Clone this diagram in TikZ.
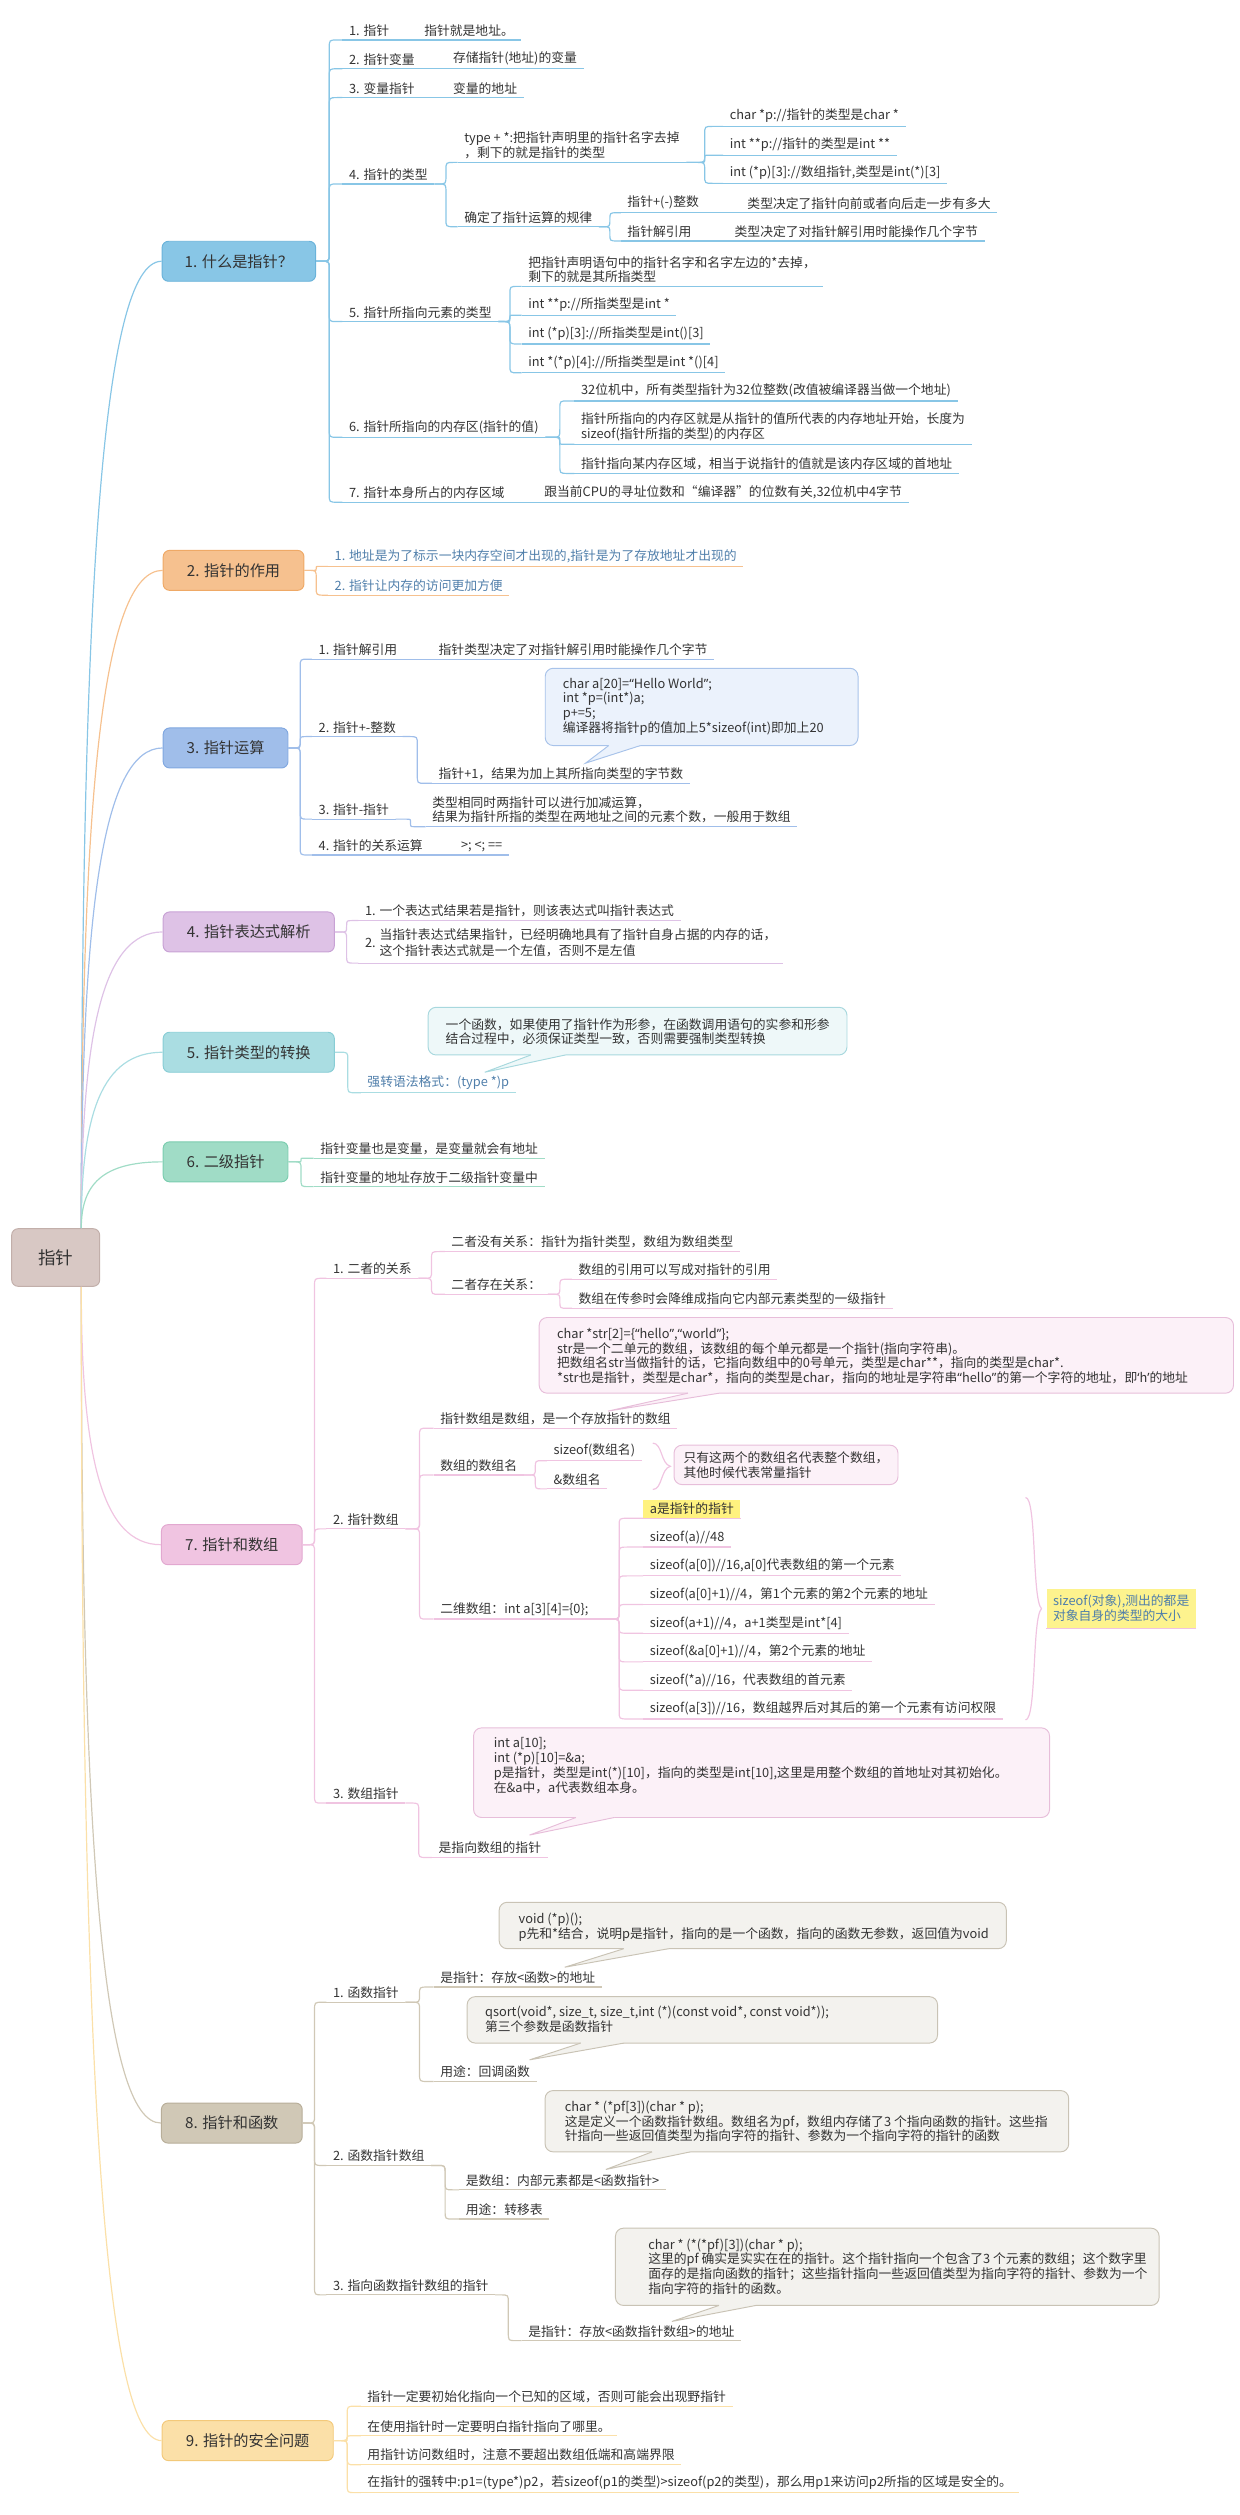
\documentclass[tikz,border=0pt]{standalone}
\usepackage{fontspec}
\setmainfont{Noto Sans CJK SC}
\newfontfamily\mmq{Noto Sans}
\usetikzlibrary{calc,fit}
\definecolor{txt}{HTML}{333333}
\definecolor{bluetxt}{HTML}{4F7EAA}
\definecolor{rootfill}{HTML}{D8C8C4}\definecolor{rootdraw}{HTML}{C2AFAA}
\definecolor{c1}{HTML}{88C6E6}\definecolor{d1}{HTML}{6AB3DA}
\definecolor{c2}{HTML}{F6C18F}\definecolor{d2}{HTML}{EFA966}
\definecolor{c3}{HTML}{A0BEEA}\definecolor{d3}{HTML}{80A7E0}
\definecolor{c4}{HTML}{DEC2E6}\definecolor{d4}{HTML}{C8A2D5}
\definecolor{c5}{HTML}{AADDE2}\definecolor{d5}{HTML}{88CDD5}
\definecolor{c6}{HTML}{A0DCC6}\definecolor{d6}{HTML}{7BCDAF}
\definecolor{c7}{HTML}{F0C4E1}\definecolor{d7}{HTML}{E2A8D0}
\definecolor{c8}{HTML}{D0C8B6}\definecolor{d8}{HTML}{B8AE99}
\definecolor{c9}{HTML}{FBE0A8}\definecolor{d9}{HTML}{F3C97A}
\definecolor{cal3f}{HTML}{EBF2FC}\definecolor{cal3d}{HTML}{A8C3EA}
\definecolor{cal5f}{HTML}{EEF8F9}\definecolor{cal5d}{HTML}{A8D8DE}
\definecolor{cal7f}{HTML}{FCF1F8}\definecolor{cal7d}{HTML}{E7BEDA}
\definecolor{cal8f}{HTML}{F3F2EE}\definecolor{cal8d}{HTML}{C9C3B5}
\definecolor{hl}{HTML}{FFF27F}
\definecolor{hlb}{HTML}{FDF38E}

\newcommand\mmleaf[6][]{%
  \node[leaf,#1] (#2) at (#3,#4) {#6};
  \draw[ln,#5] (#2.south west) -- (#2.south east);}
\newcommand\mmlink[3]{%
  \draw[#1] let \p1=(#2), \p2=(#3),
    \n1={(\x1+\x2)/2}, \n2={min(5,abs(\y2-\y1)/2,abs(\x2-\x1)/2)}, \n3={sign(\y2-\y1)}
  in (\p1) -- (\n1-\n2,\y1) .. controls (\n1,\y1) .. (\n1,\y1+\n3*\n2)
     -- (\n1,\y2-\n3*\n2) .. controls (\n1,\y2) .. (\n1+\n2,\y2) -- (\p2);}
\newcommand\mmrootlink[3]{%
  \draw[#1] let \p1=(#2), \p2=(#3) in (\p1) .. controls (\x1,0.35*\y1+0.65*\y2) and (\x1+0.25*\x2-0.25*\x1,\y2) .. (\p2);}
% tail of a callout: fill, draw, base x1, base x2, base y, tip
\newcommand\mmtail[6]{%
  \fill[#1] (#3,#5-1.5) -- (#3,#5) -- (#6) -- (#4,#5) -- (#4,#5-1.5) -- cycle;
  \draw[#2,line width=0.6pt] (#3,#5) -- (#6) -- (#4,#5);}
\newcommand\mmlq{{\mmq “}}
\newcommand\mmrq{{\mmq ”}}

\begin{document}
\begin{tikzpicture}[x=1pt,y=-1pt,
  every node/.style={font=\fontsize{8}{9.2}\selectfont, text=txt},
  leaf/.style={anchor=south west, inner xsep=4pt, inner ysep=2pt, align=left},
  sec/.style={anchor=west, rounded corners=4pt, minimum height=25pt, inner sep=0pt,
              font=\fontsize{9.5}{11}\selectfont, line width=0.6pt},
  calbox/.style={rounded corners=5pt, inner sep=0pt, line width=0.6pt},
  caltext/.style={anchor=north west, inner sep=0pt, align=left},
  ln/.style={line width=0.75pt},
]
\useasboundingbox (0,0) rectangle (775,1572);

% ---------- root ----------
\node[sec, fill=rootfill, draw=rootdraw, minimum width=55pt, minimum height=36pt,
      font=\fontsize{11}{13}\selectfont] (root) at (7,786) {指针};
\coordinate (rt) at ([xshift=16pt]root.north);
\coordinate (rb) at ([xshift=16pt]root.south);

% ---------- sections ----------
\node[sec, fill=c1, draw=d1, minimum width=96pt]  (s1) at (101,163.3)   {1. 什么是指针？};
\node[sec, fill=c2, draw=d2, minimum width=88pt]  (s2) at (101.7,356.5) {2. 指针的作用};
\node[sec, fill=c3, draw=d3, minimum width=78pt]  (s3) at (101.7,467.5) {3. 指针运算};
\node[sec, fill=c4, draw=d4, minimum width=107pt] (s4) at (101.7,582.5) {4. 指针表达式解析};
\node[sec, fill=c5, draw=d5, minimum width=107pt] (s5) at (101.7,657.7) {5. 指针类型的转换};
\node[sec, fill=c6, draw=d6, minimum width=78pt]  (s6) at (101.7,726.2) {6. 二级指针};
\node[sec, fill=c7, draw=d7, minimum width=88pt]  (s7) at (100.6,965.5) {7. 指针和数组};
\node[sec, fill=c8, draw=d8, minimum width=88pt]  (s8) at (100.6,1327)  {8. 指针和函数};
\node[sec, fill=c9, draw=d9, minimum width=107pt] (s9) at (101,1525.5)  {9. 指针的安全问题};

\mmrootlink{ln,c1}{rt}{s1.west}
\mmrootlink{ln,c2}{rt}{s2.west}
\mmrootlink{ln,c3}{rt}{s3.west}
\mmrootlink{ln,c4}{rt}{s4.west}
\mmrootlink{ln,c5}{rt}{s5.west}
\mmrootlink{ln,c6}{rt}{s6.west}
\mmrootlink{ln,c7}{rb}{s7.west}
\mmrootlink{ln,c8}{rb}{s8.west}
\mmrootlink{ln,c9}{rb}{s9.west}

% ---------- section 1 ----------
\mmleaf{n11}{214}{25}{c1}{1. 指针}
\mmleaf{n11b}{261}{25}{c1}{指针就是地址。}
\mmleaf{n12}{214}{43}{c1}{2. 指针变量}
\mmleaf{n12b}{279}{43}{c1}{存储指针(地址)的变量}
\mmleaf{n13}{214}{61}{c1}{3. 变量指针}
\mmleaf{n13b}{279}{61}{c1}{变量的地址}
\mmleaf{n14}{214}{115}{c1}{4. 指针的类型}
\mmleaf{n14a}{286}{101.5}{c1}{type + *:把指针声明里的指针名字去掉\\，剩下的就是指针的类型}
\mmleaf{n14a1}{452}{79}{c1}{char *p://指针的类型是char *}
\mmleaf{n14a2}{452}{97}{c1}{int **p://指针的类型是int **}
\mmleaf{n14a3}{452}{114.6}{c1}{int (*p)[3]://数组指针,类型是int(*)[3]}
\mmleaf{n14b}{286}{141.7}{c1}{确定了指针运算的规律}
\mmleaf{n14b1}{388}{133}{c1}{指针+(-)整数}
\mmleaf{n14b1b}{463}{133}{c1}{类型决定了指针向前或者向后走一步有多大}
\mmleaf{n14b2}{388}{150.6}{c1}{指针解引用}
\mmleaf{n14b2b}{455}{150.6}{c1}{类型决定了对指针解引用时能操作几个字节}
\mmleaf{n15}{214}{201}{c1}{5. 指针所指向元素的类型}
\mmleaf{n15a}{326}{179}{c1}{把指针声明语句中的指针名字和名字左边的*去掉，\\剩下的就是其所指类型}
\mmleaf{n15b}{326}{197}{c1}{int **p://所指类型是int *}
\mmleaf{n15c}{326}{215}{c1}{int (*p)[3]://所指类型是int()[3]}
\mmleaf{n15d}{326}{233}{c1}{int *(*p)[4]://所指类型是int *()[4]}
\mmleaf{n16}{214}{273.3}{c1}{6. 指针所指向的内存区(指针的值)}
\mmleaf{n16a}{359}{250.6}{c1}{32位机中，所有类型指针为32位整数(改值被编译器当做一个地址)}
\mmleaf{n16b}{359}{277.7}{c1}{指针所指向的内存区就是从指针的值所代表的内存地址开始，长度为\\sizeof(指针所指的类型)的内存区}
\mmleaf{n16c}{359}{295.9}{c1}{指针指向某内存区域，相当于说指针的值就是该内存区域的首地址}
\mmleaf{n17}{214}{313.9}{c1}{7. 指针本身所占的内存区域}
\mmleaf{n17b}{336}{313.9}{c1}{跟当前CPU的寻址位数和“编译器”的位数有关,32位机中4字节}

\foreach \q in {n11,n12,n13,n14,n15,n16,n17} {\mmlink{ln,c1}{s1.east}{\q.south west}}
\draw[ln,c1] (n11.south east) -- (n11b.south west);
\draw[ln,c1] (n12.south east) -- (n12b.south west);
\draw[ln,c1] (n13.south east) -- (n13b.south west);
\draw[ln,c1] (n17.south east) -- (n17b.south west);
\draw[ln,c1] (n14b1.south east) -- (n14b1b.south west);
\draw[ln,c1] (n14b2.south east) -- (n14b2b.south west);
\mmlink{ln,c1}{n14.south east}{n14a.south west}
\mmlink{ln,c1}{n14.south east}{n14b.south west}
\foreach \q in {n14a1,n14a2,n14a3} {\mmlink{ln,c1}{n14a.south east}{\q.south west}}
\foreach \q in {n14b1,n14b2} {\mmlink{ln,c1}{n14b.south east}{\q.south west}}
\foreach \q in {n15a,n15b,n15c,n15d} {\mmlink{ln,c1}{n15.south east}{\q.south west}}
\foreach \q in {n16a,n16b,n16c} {\mmlink{ln,c1}{n16.south east}{\q.south west}}

% ---------- section 2 ----------
\mmleaf[text=bluetxt]{n21}{205}{354}{c2}{1. 地址是为了标示一块内存空间才出现的,指针是为了存放地址才出现的}
\mmleaf[text=bluetxt]{n22}{205}{372}{c2}{2. 指针让内存的访问更加方便}
\foreach \q in {n21,n22} {\mmlink{ln,c2}{s2.east}{\q.south west}}

% ---------- section 3 ----------
\mmleaf{n31}{195}{412}{c3}{1. 指针解引用}
\mmleaf{n31b}{270}{412}{c3}{指针类型决定了对指针解引用时能操作几个字节}
\mmleaf{n32}{195}{460.4}{c3}{2. 指针+-整数}
\mmleaf{n32a}{270}{489.6}{c3}{指针+1，结果为加上其所指向类型的字节数}
\mmleaf{n33}{195}{512}{c3}{3. 指针-指针}
\mmleaf{n33a}{266}{516.7}{c3}{类型相同时两指针可以进行加减运算，\\结果为指针所指的类型在两地址之间的元素个数，一般用于数组}
\mmleaf{n34}{195}{534.4}{c3}{4. 指针的关系运算}
\mmleaf{n34b}{284}{534.4}{c3}{>; <; ==}
\foreach \q in {n31,n32,n33,n34} {\mmlink{ln,c3}{s3.east}{\q.south west}}
\draw[ln,c3] (n31.south east) -- (n31b.south west);
\draw[ln,c3] (n34.south east) -- (n34b.south west);
\mmlink{ln,c3}{n32.south east}{n32a.south west}
\mmlink{ln,c3}{n33.south east}{n33a.south west}
\node[calbox, fill=cal3f, draw=cal3d, fit={(340.8,417.7) (536.3,466)}] (cal3) {};
\coordinate (cal3tip) at (366,477);
\mmtail{cal3f}{cal3d}{380.5}{400.3}{466}{cal3tip}
\node[caltext] (cal3t) at (351.6,423.5) {char a[20]=\mmlq Hello World\mmrq;\\int *p=(int*)a;\\p+=5;\\编译器将指针p的值加上5*sizeof(int)即加上20};

% ---------- section 4 ----------
\mmleaf{n41}{224}{575.4}{c4}{1. 一个表达式结果若是指针，则该表达式叫指针表达式}
\mmleaf{n42}{224}{602}{c4}{2. \begin{tabular}{@{}l@{}}当指针表达式结果指针，已经明确地具有了指针自身占据的内存的话，\\这个指针表达式就是一个左值，否则不是左值\end{tabular}}
\foreach \q in {n41,n42} {\mmlink{ln,c4}{s4.east}{\q.south west}}

% ---------- section 5 ----------
\mmleaf[text=bluetxt]{n51}{225.5}{683}{c5}{强转语法格式：(type *)p}
\mmlink{ln,c5}{s5.east}{n51.south west}
\node[calbox, fill=cal5f, draw=cal5d, fit={(267.6,629.6) (529.4,659.4)}] (cal5) {};
\coordinate (cal5tip) at (303,670.2);
\mmtail{cal5f}{cal5d}{331.8}{353.4}{659.4}{cal5tip}
\node[caltext] (cal5t) at (278.4,636.3) {一个函数，如果使用了指针作为形参，在函数调用语句的实参和形参\\结合过程中，必须保证类型一致，否则需要强制类型转换};

% ---------- section 6 ----------
\mmleaf{n61}{196}{723.9}{c6}{指针变量也是变量，是变量就会有地址}
\mmleaf{n62}{196}{741.7}{c6}{指针变量的地址存放于二级指针变量中}
\foreach \q in {n61,n62} {\mmlink{ln,c6}{s6.east}{\q.south west}}

% ---------- section 7 ----------
\mmleaf{n71}{204}{799}{c7}{1. 二者的关系}
\mmleaf{n71a}{278}{782.3}{c7}{二者没有关系：指针为指针类型，数组为数组类型}
\mmleaf{n71b}{278}{809}{c7}{二者存在关系：}
\mmleaf{n71b1}{357.5}{799.6}{c7}{数组的引用可以写成对指针的引用}
\mmleaf{n71b2}{357.5}{817.7}{c7}{数组在传参时会降维成指向它内部元素类型的一级指针}
\mmleaf{n72}{204}{955.6}{c7}{2. 指针数组}
\mmleaf{n72a}{271}{892.7}{c7}{指针数组是数组，是一个存放指针的数组}
\mmleaf{n72b}{271}{921.9}{c7}{数组的数组名}
\mmleaf{n72b1}{341.8}{913}{c7}{sizeof(数组名)}
\mmleaf{n72b2}{341.8}{930.6}{c7}{\&数组名}
\mmleaf{n72c}{271}{1012}{c7}{二维数组：int a[3][4]=\{0\};}
\mmleaf[fill=hl]{n72c1}{402}{949}{c7}{a是指针的指针}
\mmleaf{n72c2}{402}{967}{c7}{sizeof(a)//48}
\mmleaf{n72c3}{402}{985}{c7}{sizeof(a[0])//16,a[0]代表数组的第一个元素}
\mmleaf{n72c4}{402}{1002.9}{c7}{sizeof(a[0]+1)//4，第1个元素的第2个元素的地址}
\mmleaf{n72c5}{402}{1020.8}{c7}{sizeof(a+1)//4，a+1类型是int*[4]}
\mmleaf{n72c6}{402}{1038.75}{c7}{sizeof(\&a[0]+1)//4，第2个元素的地址}
\mmleaf{n72c7}{402}{1056.5}{c7}{sizeof(*a)//16，代表数组的首元素}
\mmleaf{n72c8}{402}{1074.4}{c7}{sizeof(a[3])//16，数组越界后对其后的第一个元素有访问权限}
\mmleaf{n73}{204}{1127}{c7}{3. 数组指针}
\mmleaf{n73a}{270}{1161}{c7}{是指向数组的指针}
\foreach \q in {n71,n72,n73} {\mmlink{ln,c7}{s7.east}{\q.south west}}
\foreach \q in {n71a,n71b} {\mmlink{ln,c7}{n71.south east}{\q.south west}}
\foreach \q in {n71b1,n71b2} {\mmlink{ln,c7}{n71b.south east}{\q.south west}}
\foreach \q in {n72a,n72b,n72c} {\mmlink{ln,c7}{n72.south east}{\q.south west}}
\foreach \q in {n72b1,n72b2} {\mmlink{ln,c7}{n72b.south east}{\q.south west}}
\foreach \q in {n72c1,n72c2,n72c3,n72c4,n72c5,n72c6,n72c7,n72c8} {\mmlink{ln,c7}{n72c.south east}{\q.south west}}
\mmlink{ln,c7}{n73.south east}{n73a.south west}
% callout A
\node[calbox, fill=cal7f, draw=cal7d, fit={(337,823.5) (771,870.8)}] (cal7a) {};
\coordinate (cal7atip) at (380,882);
\mmtail{cal7f}{cal7d}{430}{449.5}{870.8}{cal7atip}
\node[caltext] (cal7at) at (348,830) {char *str[2]=\{\mmlq hello\mmrq,\mmlq world\mmrq\};\\str是一个二单元的数组，该数组的每个单元都是一个指针(指向字符串)。\\把数组名str当做指针的话，它指向数组中的0号单元，类型是char**，指向的类型是char*.\\{}*str也是指针，类型是char*，指向的类型是char，指向的地址是字符串\mmlq hello\mmrq 的第一个字符的地址，即{\mmq ‘}h{\mmq ’}的地址};
% summary 1
\draw[ln,c7] (408,902) .. controls (414,902) and (413,915) .. (419,916.5) .. controls (413,918) and (414,931) .. (408,931);
\node[calbox, fill=cal7f, draw=cal7d, anchor=north west, inner xsep=6pt, inner ysep=4pt, align=left] (sum1) at (421,903) {只有这两个的数组名代表整个数组，\\其他时候代表常量指针};
% summary 2
\draw[ln,c7] (641,936) .. controls (648,936) and (645,1000) .. (651,1005.5) .. controls (645,1011) and (648,1075) .. (641,1075);
\node[fill=hlb, anchor=north west, inner xsep=4pt, inner ysep=4pt, align=left, text=bluetxt] (sum2) at (654,992.7) {sizeof(对象),测出的都是\\对象自身的类型的大小};
\draw[ln,c7] (sum2.south west) -- (sum2.south east);
% callout C
\node[calbox, fill=cal7f, draw=cal7d, fit={(296,1080) (656,1136)}] (cal7c) {};
\coordinate (cal7ctip) at (331,1147);
\mmtail{cal7f}{cal7d}{360}{384}{1136}{cal7ctip}
\node[caltext] (cal7ct) at (308.5,1086) {int a[10];\\int (*p)[10]=\&a;\\p是指针，类型是int(*)[10]，指向的类型是int[10],这里是用整个数组的首地址对其初始化。\\在\&a中，a代表数组本身。};

% ---------- section 8 ----------
\mmleaf{n81}{204}{1251.5}{c8}{1. 函数指针}
\mmleaf{n81a}{271}{1242}{c8}{是指针：存放<函数>的地址}
\mmleaf{n81b}{271}{1301}{c8}{用途：回调函数}
\mmleaf{n82}{204}{1353.5}{c8}{2. 函数指针数组}
\mmleaf{n82a}{287}{1368.75}{c8}{是数组：内部元素都是<函数指针>}
\mmleaf{n82b}{287}{1387}{c8}{用途：转移表}
\mmleaf{n83}{204}{1434.4}{c8}{3. 指向函数指针数组的指针}
\mmleaf{n83a}{326}{1463}{c8}{是指针：存放<函数指针数组>的地址}
\foreach \q in {n81,n82,n83} {\mmlink{ln,c8}{s8.east}{\q.south west}}
\foreach \q in {n81a,n81b} {\mmlink{ln,c8}{n81.south east}{\q.south west}}
\foreach \q in {n82a,n82b} {\mmlink{ln,c8}{n82.south east}{\q.south west}}
\mmlink{ln,c8}{n83.south east}{n83a.south west}
\node[calbox, fill=cal8f, draw=cal8d, fit={(312,1189) (629,1218)}] (cal8a) {};
\coordinate (cal8atip) at (353,1229.6);
\mmtail{cal8f}{cal8d}{390}{418}{1218}{cal8atip}
\node[caltext] (cal8at) at (324,1195.4) {void (*p)();\\p先和*结合，说明p是指针，指向的是一个函数，指向的函数无参数，返回值为void};
\node[calbox, fill=cal8f, draw=cal8d, fit={(292,1248) (586,1277)}] (cal8b) {};
\coordinate (cal8btip) at (331,1287.5);
\mmtail{cal8f}{cal8d}{363}{390}{1277}{cal8btip}
\node[caltext] (cal8bt) at (303,1253.7) {qsort(void*, size\_t, size\_t,int (*)(const void*, const void*));\\第三个参数是函数指针};
\node[calbox, fill=cal8f, draw=cal8d, fit={(340.7,1306.7) (668,1345)}] (cal8c) {};
\coordinate (cal8ctip) at (378.7,1356);
\mmtail{cal8f}{cal8d}{407.6}{431.5}{1345}{cal8ctip}
\node[caltext] (cal8ct) at (352.8,1313) {char * (*pf[3])(char * p);\\这是定义一个函数指针数组。数组名为pf，数组内存储了3 个指向函数的指针。这些指\\针指向一些返回值类型为指向字符的指针、参数为一个指向字符的指针的函数};
\node[calbox, fill=cal8f, draw=cal8d, fit={(384.7,1392.7) (724.5,1441)}] (cal8d) {};
\coordinate (cal8dtip) at (420,1451);
\mmtail{cal8f}{cal8d}{449.4}{472.5}{1441}{cal8dtip}
\node[caltext] (cal8dt) at (405,1399) {char * (*(*pf)[3])(char * p);\\这里的pf 确实是实实在在的指针。这个指针指向一个包含了3 个元素的数组；这个数字里\\面存的是指向函数的指针；这些指针指向一些返回值类型为指向字符的指针、参数为一个\\指向字符的指针的函数。};

% ---------- section 9 ----------
\mmleaf{n91}{225.5}{1504}{c9}{指针一定要初始化指向一个已知的区域，否则可能会出现野指针}
\mmleaf{n92}{225.5}{1522.5}{c9}{在使用指针时一定要明白指针指向了哪里。}
\mmleaf{n93}{225.5}{1540.6}{c9}{用指针访问数组时，注意不要超出数组低端和高端界限}
\mmleaf{n94}{225.5}{1558}{c9}{在指针的强转中:p1=(type*)p2，若sizeof(p1的类型)>sizeof(p2的类型)，那么用p1来访问p2所指的区域是安全的。}
\foreach \q in {n91,n92,n93,n94} {\mmlink{ln,c9}{s9.east}{\q.south west}}
\end{tikzpicture}
\end{document}
